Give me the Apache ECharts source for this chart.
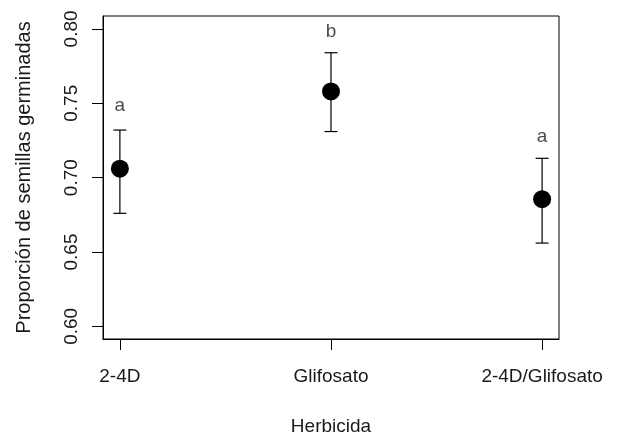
<!DOCTYPE html>
<html><head><meta charset="utf-8">
<script src="https://cdn.jsdelivr.net/npm/echarts@6/dist/echarts.min.js"></script>
<style>html,body{margin:0;padding:0;background:#fff}#c{width:629px;height:434px}</style>
</head><body><div id="c"></div>
<script>
const categories = ['2-4D', 'Glifosato', '2-4D/Glifosato'];
const means = [0.706, 0.758, 0.6855];
const lower = [0.676, 0.731, 0.656];
const upper = [0.732, 0.784, 0.713];
const letters = ['a', 'b', 'a'];
const letterY = [0.7485, 0.798, 0.7275];
const yTicks = [0.60, 0.65, 0.70, 0.75, 0.80];
const xTicks = [1, 2, 3];

const FONT = "'Liberation Sans', Arial, sans-serif";
const FS = 19;
const TXT = '#1a1a1a';

const chart = echarts.init(document.getElementById('c'), null, {renderer: 'canvas'});
chart.setOption({
  animation: false,
  backgroundColor: '#fff',
  grid: {left: 103, right: 70, top: 16, bottom: 95, show: true, borderColor: '#000', borderWidth: 1,
    containLabel: false, outerBoundsMode: 'none'},
  xAxis: {
    type: 'value', min: 0.92, max: 3.08,
    name: 'Herbicida', nameLocation: 'middle', nameGap: 78,
    nameTextStyle: {fontFamily: FONT, fontSize: FS, color: TXT},
    axisLine: {show: true, lineStyle: {color: '#000', width: 1}},
    axisTick: {show: true, length: 11, customValues: xTicks, lineStyle: {color: '#000'}},
    axisLabel: {customValues: xTicks, margin: 28, fontFamily: FONT, fontSize: FS, color: TXT,
      formatter: v => categories[Math.round(v) - 1]},
    splitLine: {show: false}
  },
  yAxis: {
    type: 'value', min: 0.5915, max: 0.8087,
    name: 'Proporción de semillas germinadas', nameLocation: 'middle', nameGap: 69,
    nameTextStyle: {fontFamily: FONT, fontSize: 20, color: TXT},
    axisLine: {show: true, lineStyle: {color: '#000', width: 1}},
    axisTick: {show: true, length: 11, customValues: yTicks, lineStyle: {color: '#000'}},
    axisLabel: {customValues: yTicks, rotate: 90, margin: 22, fontFamily: FONT, fontSize: FS, color: TXT,
      formatter: v => v.toFixed(2)},
    splitLine: {show: false}
  },
  series: [
    {
      type: 'custom',
      data: xTicks.map((x, i) => [x, lower[i], upper[i]]),
      renderItem: (params, api) => {
        const x = api.value(0);
        const lo = api.coord([x, api.value(1)]);
        const hi = api.coord([x, api.value(2)]);
        const w = 6.5;
        const st = {stroke: '#000', lineWidth: 1.2};
        return {type: 'group', children: [
          {type: 'line', shape: {x1: lo[0], y1: lo[1], x2: hi[0], y2: hi[1]}, style: st},
          {type: 'line', shape: {x1: lo[0] - w, y1: lo[1], x2: lo[0] + w, y2: lo[1]}, style: st},
          {type: 'line', shape: {x1: hi[0] - w, y1: hi[1], x2: hi[0] + w, y2: hi[1]}, style: st}
        ]};
      },
      z: 2
    },
    {
      type: 'scatter',
      data: xTicks.map((x, i) => [x, means[i]]),
      symbol: 'circle', symbolSize: 18,
      itemStyle: {color: '#000', opacity: 1},
      z: 3
    },
    {
      type: 'scatter',
      data: xTicks.map((x, i) => [x, letterY[i], letters[i]]),
      symbolSize: 0,
      label: {show: true, position: 'inside', formatter: p => p.data[2],
        fontFamily: FONT, fontSize: FS, color: TXT},
      z: 3
    }
  ]
});
</script></body></html>
